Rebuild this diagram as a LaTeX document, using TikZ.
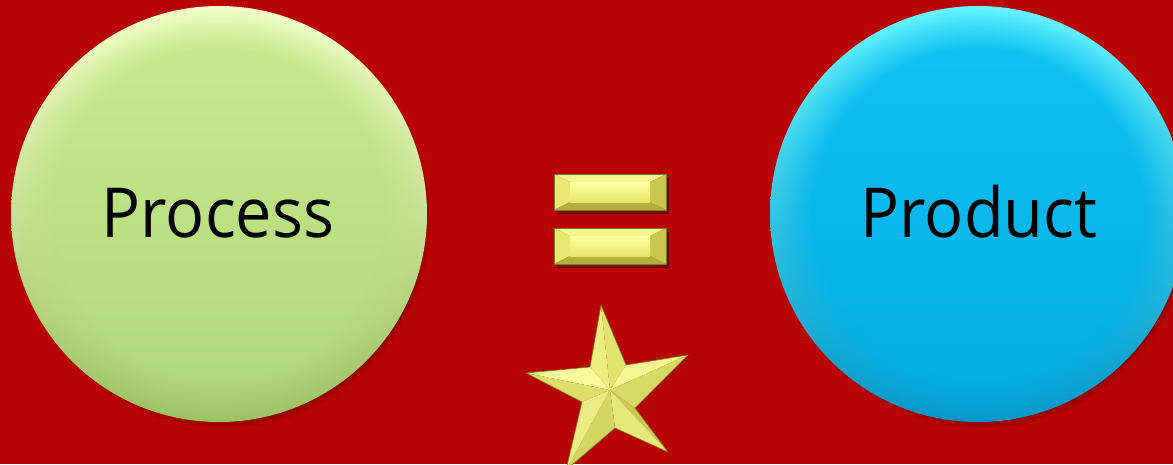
\documentclass[tikz,border=0pt]{standalone}
\usepackage{fontspec}
\setmainfont{Open Sans}
\usetikzlibrary{fadings}
\definecolor{bgred}{HTML}{B80404}
\definecolor{gRimTop}{HTML}{F4FFC8}
\definecolor{gRimBot}{HTML}{9CC262}
\definecolor{gInTop}{HTML}{C8EC90}
\definecolor{gInBot}{HTML}{AFD676}
\definecolor{bRimTop}{HTML}{66F6FF}
\definecolor{bRimBot}{HTML}{0696C8}
\definecolor{bInTop}{HTML}{12C4F4}
\definecolor{bInBot}{HTML}{02ACE4}
\definecolor{yTop}{HTML}{F6F690}
\definecolor{yLeft}{HTML}{E8E872}
\definecolor{yRight}{HTML}{C8C84C}
\definecolor{yBot}{HTML}{B2B040}
\definecolor{yFaceTop}{HTML}{FFFFA0}
\definecolor{yFaceBot}{HTML}{E6E66C}
\definecolor{yEdge}{HTML}{7A7820}
\definecolor{sA}{HTML}{EEEE80}
\definecolor{sB}{HTML}{E2E270}
\definecolor{sC}{HTML}{F6F694}
\definecolor{sD}{HTML}{D8D864}
\definecolor{sE}{HTML}{C8C852}
\definecolor{sF}{HTML}{E8E878}
\definecolor{sG}{HTML}{D4D462}
\definecolor{sH}{HTML}{ECEC84}
\definecolor{sI}{HTML}{FAFA9C}
\definecolor{sJ}{HTML}{DEDE6C}
\tikzset{
  x=1pt, y=-1pt,
  label text/.style={font=\fontsize{69}{80}\selectfont, text=black, inner sep=0pt, anchor=base},
  bevelbar/.pic={
    \fill[black, opacity=.35] (3,4) rectangle (115,40);
    \fill[yTop] (0,0)--(112,0)--(96,8)--(16,8)--cycle;
    \fill[yLeft] (0,0)--(16,8)--(16,28)--(0,36)--cycle;
    \fill[yRight] (112,0)--(112,36)--(96,28)--(96,8)--cycle;
    \fill[yBot] (0,36)--(16,28)--(96,28)--(112,36)--cycle;
    \shade[top color=yFaceTop, bottom color=yFaceBot] (16,8) rectangle (96,28);
    \draw[yEdge, line width=0.7pt] (0,0) rectangle (112,36);
  },
  starface/.style={fill=#1}
}
\begin{document}
\begin{tikzpicture}
\path[use as bounding box] (0,0) rectangle (1173,464);
\fill[bgred] (0,0) rectangle (1173,464);
\clip (0,0) rectangle (1173,464);

% soft shadows of the circles
\foreach \k in {0,2,...,10} {
  \fill[black, opacity=.05] (223,220) circle ({198pt+\k pt});
  \fill[black, opacity=.05] (982,220) circle ({198pt+\k pt});
}

% green circle
\shade[top color=gRimTop, bottom color=gRimBot] (219,214) circle (208pt);
\shade[top color=gInTop, bottom color=gInBot, path fading=circle with fuzzy edge 20 percent] (219,214) circle (206pt);
\node[circle, minimum size=416pt, inner sep=0pt] (procball) at (219,214) {};
\node[label text] (proc) at (218,237) {\scalebox{0.94}[1]{Process}};

% blue circle
\shade[top color=bRimTop, bottom color=bRimBot] (978,214) circle (208pt);
\shade[top color=bInTop, bottom color=bInBot, path fading=circle with fuzzy edge 20 percent] (978,214) circle (206pt);
\node[circle, minimum size=416pt, inner sep=0pt] (prodball) at (978,214) {};
\node[label text] (prod) at (979,237) {\scalebox{0.94}[1]{Product}};

% equals sign
\pic at (554,174) {bevelbar};
\pic at (554,228) {bevelbar};

% star
\coordinate (C) at (610,390);
\coordinate (T1) at (601,305);
\coordinate (T2) at (688,355);
\coordinate (T3) at (668,452);
\coordinate (T4) at (566,470);
\coordinate (T5) at (526,373);
\coordinate (I12) at (626,365);
\coordinate (I23) at (635,408);
\coordinate (I34) at (615,428);
\coordinate (I45) at (582,402);
\coordinate (I51) at (590,367);
\fill[black, opacity=.35, shift={(5pt,-6pt)}] (T1)--(I12)--(T2)--(I23)--(T3)--(I34)--(T4)--(I45)--(T5)--(I51)--cycle;
\fill[starface=sA] (C)--(T1)--(I51)--cycle;
\fill[starface=sB] (C)--(T1)--(I12)--cycle;
\fill[starface=sC] (C)--(T2)--(I12)--cycle;
\fill[starface=sD] (C)--(T2)--(I23)--cycle;
\fill[starface=sE] (C)--(T3)--(I23)--cycle;
\fill[starface=sF] (C)--(T3)--(I34)--cycle;
\fill[starface=sG] (C)--(T4)--(I34)--cycle;
\fill[starface=sH] (C)--(T4)--(I45)--cycle;
\fill[starface=sI] (C)--(T5)--(I51)--cycle;
\fill[starface=sJ] (C)--(T5)--(I45)--cycle;
\draw[yEdge, line width=0.6pt, line join=miter] (T1)--(I12)--(T2)--(I23)--(T3)--(I34)--(T4)--(I45)--(T5)--(I51)--cycle;
\end{tikzpicture}
\end{document}
